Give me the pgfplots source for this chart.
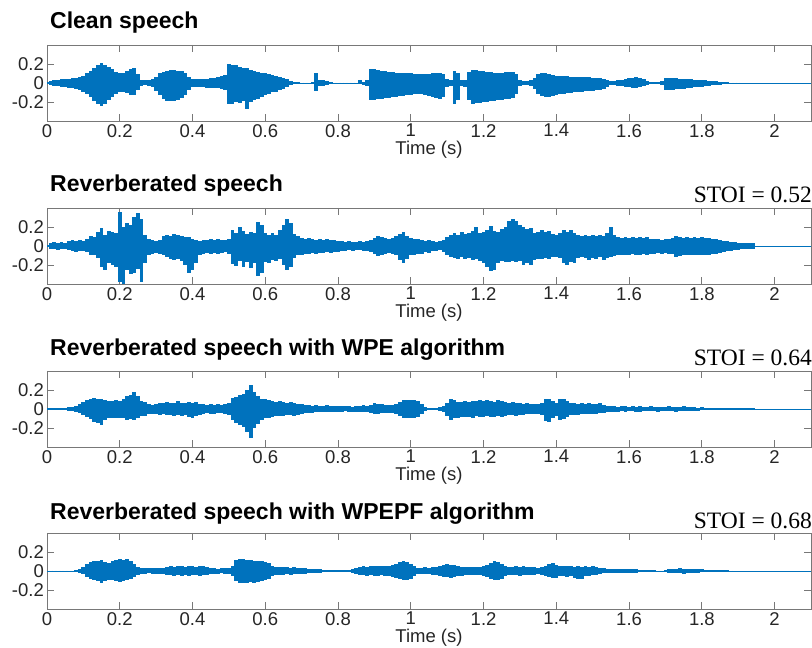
\documentclass[border=0pt]{standalone}
\usepackage{fontspec}
\setmainfont{Liberation Sans}
\newfontfamily\stoifont{Liberation Serif}
\usepackage{pgfplots}
\usepackage{pgfplotstable}
\pgfplotsset{compat=1.18}
\definecolor{wave}{RGB}{0,114,189}
\definecolor{spine}{RGB}{120,120,120}
\definecolor{ticktext}{RGB}{38,38,38}

% columns: positive peak, negative peak, one row every 0.01 s from t = 0
\pgfplotstableread[row sep=\\]{hi lo\\
0.01 -0.01\\ 0.02 -0.02\\ 0.03 -0.03\\ 0.03 -0.03\\ 0.04 -0.04\\ 0.04 -0.04\\ 0.04 -0.05\\ 0.05 -0.05\\ 0.05 -0.06\\ 0.06 -0.07\\
0.07 -0.09\\ 0.10 -0.12\\ 0.13 -0.15\\ 0.16 -0.19\\ 0.19 -0.22\\ 0.21 -0.24\\ 0.19 -0.22\\ 0.17 -0.18\\ 0.15 -0.15\\ 0.12 -0.12\\
0.11 -0.10\\ 0.11 -0.10\\ 0.13 -0.11\\ 0.15 -0.13\\ 0.16 -0.13\\ 0.09 -0.07\\ 0.03 -0.03\\ 0.03 -0.02\\ 0.03 -0.03\\ 0.04 -0.04\\
0.06 -0.08\\ 0.10 -0.13\\ 0.12 -0.17\\ 0.13 -0.19\\ 0.14 -0.19\\ 0.14 -0.19\\ 0.13 -0.18\\ 0.13 -0.16\\ 0.11 -0.13\\ 0.06 -0.07\\
0.04 -0.04\\ 0.04 -0.04\\ 0.04 -0.04\\ 0.04 -0.04\\ 0.04 -0.05\\ 0.05 -0.05\\ 0.05 -0.05\\ 0.06 -0.05\\ 0.07 -0.06\\ 0.08 -0.07\\
0.20 -0.22\\ 0.19 -0.22\\ 0.19 -0.20\\ 0.17 -0.21\\ 0.16 -0.19\\ 0.16 -0.27\\ 0.14 -0.20\\ 0.13 -0.18\\ 0.12 -0.17\\ 0.11 -0.15\\
0.10 -0.13\\ 0.09 -0.12\\ 0.08 -0.10\\ 0.07 -0.09\\ 0.06 -0.07\\ 0.05 -0.06\\ 0.04 -0.04\\ 0.02 -0.02\\ 0.01 -0.01\\ 0.01 -0.01\\
0.005 -0.005\\ 0.005 -0.005\\ 0.005 -0.005\\ 0.01 -0.01\\ 0.11 -0.08\\ 0.03 -0.03\\ 0.03 -0.03\\ 0.02 -0.02\\ 0.01 -0.01\\ 0.005 -0.005\\
0.005 -0.005\\ 0.005 -0.005\\ 0.005 -0.005\\ 0.005 -0.005\\ 0.005 -0.005\\ 0.005 -0.005\\ 0.03 -0.01\\ 0.01 -0.02\\ 0.03 -0.03\\ 0.15 -0.18\\
0.15 -0.18\\ 0.14 -0.17\\ 0.13 -0.17\\ 0.13 -0.16\\ 0.12 -0.16\\ 0.12 -0.15\\ 0.11 -0.15\\ 0.11 -0.14\\ 0.10 -0.14\\ 0.10 -0.13\\
0.10 -0.13\\ 0.09 -0.12\\ 0.09 -0.12\\ 0.09 -0.12\\ 0.09 -0.13\\ 0.09 -0.14\\ 0.10 -0.15\\ 0.10 -0.16\\ 0.10 -0.17\\ 0.09 -0.15\\
0.04 -0.04\\ 0.03 -0.03\\ 0.13 -0.22\\ 0.10 -0.18\\ 0.03 -0.03\\ 0.03 -0.04\\ 0.12 -0.18\\ 0.14 -0.22\\ 0.14 -0.21\\ 0.13 -0.21\\
0.13 -0.20\\ 0.12 -0.20\\ 0.12 -0.19\\ 0.11 -0.19\\ 0.11 -0.18\\ 0.11 -0.18\\ 0.12 -0.17\\ 0.12 -0.17\\ 0.12 -0.16\\ 0.09 -0.12\\
0.03 -0.03\\ 0.02 -0.02\\ 0.02 -0.02\\ 0.03 -0.03\\ 0.05 -0.06\\ 0.09 -0.12\\ 0.10 -0.14\\ 0.10 -0.15\\ 0.09 -0.15\\ 0.08 -0.14\\
0.07 -0.13\\ 0.07 -0.12\\ 0.07 -0.12\\ 0.07 -0.11\\ 0.06 -0.11\\ 0.06 -0.10\\ 0.06 -0.09\\ 0.06 -0.09\\ 0.06 -0.08\\ 0.06 -0.08\\
0.05 -0.08\\ 0.05 -0.07\\ 0.05 -0.07\\ 0.04 -0.06\\ 0.03 -0.04\\ 0.02 -0.02\\ 0.02 -0.02\\ 0.03 -0.03\\ 0.03 -0.03\\ 0.04 -0.04\\
0.05 -0.04\\ 0.05 -0.05\\ 0.06 -0.05\\ 0.05 -0.04\\ 0.04 -0.03\\ 0.02 -0.02\\ 0.01 -0.01\\ 0.01 -0.01\\ 0.01 -0.01\\ 0.02 -0.02\\
0.05 -0.07\\ 0.05 -0.07\\ 0.05 -0.07\\ 0.05 -0.06\\ 0.04 -0.06\\ 0.04 -0.06\\ 0.04 -0.05\\ 0.04 -0.05\\ 0.03 -0.04\\ 0.03 -0.04\\
0.03 -0.04\\ 0.03 -0.03\\ 0.02 -0.03\\ 0.02 -0.02\\ 0.02 -0.02\\ 0.01 -0.02\\ 0.01 -0.01\\ 0.01 -0.01\\ 0.005 -0.005\\ 0.005 -0.005\\ 0.002 -0.002\\
}\tclean

\pgfplotstableread[row sep=\\]{hi lo\\
0.01 -0.01\\ 0.03 -0.03\\ 0.04 -0.03\\ 0.03 -0.04\\ 0.04 -0.03\\ 0.03 -0.03\\ 0.05 -0.04\\ 0.06 -0.05\\ 0.05 -0.06\\ 0.06 -0.05\\
0.05 -0.05\\ 0.07 -0.06\\ 0.10 -0.09\\ 0.09 -0.10\\ 0.15 -0.13\\ 0.19 -0.22\\ 0.12 -0.25\\ 0.16 -0.18\\ 0.15 -0.20\\ 0.14 -0.22\\
0.36 -0.38\\ 0.20 -0.41\\ 0.24 -0.25\\ 0.22 -0.30\\ 0.30 -0.28\\ 0.35 -0.24\\ 0.28 -0.38\\ 0.12 -0.18\\ 0.07 -0.10\\ 0.06 -0.08\\
0.05 -0.07\\ 0.06 -0.08\\ 0.10 -0.10\\ 0.12 -0.12\\ 0.11 -0.14\\ 0.13 -0.15\\ 0.12 -0.14\\ 0.11 -0.16\\ 0.09 -0.20\\ 0.09 -0.28\\
0.07 -0.25\\ 0.06 -0.18\\ 0.05 -0.10\\ 0.06 -0.08\\ 0.06 -0.07\\ 0.07 -0.08\\ 0.06 -0.07\\ 0.07 -0.08\\ 0.06 -0.07\\ 0.06 -0.06\\
0.07 -0.08\\ 0.17 -0.19\\ 0.14 -0.21\\ 0.20 -0.16\\ 0.16 -0.22\\ 0.13 -0.17\\ 0.15 -0.23\\ 0.14 -0.18\\ 0.25 -0.32\\ 0.22 -0.28\\
0.14 -0.17\\ 0.12 -0.18\\ 0.14 -0.15\\ 0.12 -0.16\\ 0.17 -0.14\\ 0.22 -0.20\\ 0.28 -0.25\\ 0.24 -0.22\\ 0.13 -0.13\\ 0.10 -0.10\\
0.08 -0.09\\ 0.07 -0.08\\ 0.08 -0.08\\ 0.07 -0.07\\ 0.06 -0.08\\ 0.07 -0.07\\ 0.06 -0.07\\ 0.07 -0.06\\ 0.06 -0.07\\ 0.06 -0.06\\
0.05 -0.06\\ 0.05 -0.05\\ 0.04 -0.05\\ 0.05 -0.04\\ 0.04 -0.05\\ 0.04 -0.04\\ 0.05 -0.04\\ 0.04 -0.05\\ 0.05 -0.05\\ 0.06 -0.06\\
0.08 -0.08\\ 0.10 -0.11\\ 0.09 -0.10\\ 0.08 -0.08\\ 0.07 -0.07\\ 0.08 -0.08\\ 0.10 -0.10\\ 0.13 -0.15\\ 0.15 -0.18\\ 0.11 -0.14\\
0.08 -0.10\\ 0.07 -0.09\\ 0.07 -0.08\\ 0.06 -0.08\\ 0.05 -0.06\\ 0.06 -0.07\\ 0.05 -0.05\\ 0.04 -0.05\\ 0.05 -0.04\\ 0.06 -0.06\\
0.09 -0.09\\ 0.12 -0.12\\ 0.14 -0.13\\ 0.12 -0.14\\ 0.15 -0.12\\ 0.13 -0.14\\ 0.14 -0.13\\ 0.16 -0.15\\ 0.20 -0.14\\ 0.14 -0.16\\
0.15 -0.18\\ 0.17 -0.22\\ 0.21 -0.26\\ 0.16 -0.25\\ 0.15 -0.18\\ 0.18 -0.16\\ 0.20 -0.17\\ 0.26 -0.17\\ 0.28 -0.16\\ 0.26 -0.17\\
0.22 -0.16\\ 0.20 -0.20\\ 0.18 -0.18\\ 0.19 -0.20\\ 0.14 -0.15\\ 0.15 -0.14\\ 0.17 -0.14\\ 0.15 -0.13\\ 0.16 -0.14\\ 0.13 -0.12\\
0.12 -0.12\\ 0.14 -0.13\\ 0.17 -0.18\\ 0.15 -0.20\\ 0.17 -0.17\\ 0.14 -0.18\\ 0.12 -0.13\\ 0.11 -0.12\\ 0.12 -0.13\\ 0.11 -0.15\\
0.12 -0.13\\ 0.10 -0.14\\ 0.12 -0.12\\ 0.11 -0.15\\ 0.14 -0.13\\ 0.20 -0.12\\ 0.12 -0.11\\ 0.09 -0.10\\ 0.08 -0.09\\ 0.09 -0.10\\
0.08 -0.09\\ 0.09 -0.08\\ 0.08 -0.09\\ 0.09 -0.10\\ 0.08 -0.08\\ 0.09 -0.09\\ 0.07 -0.08\\ 0.07 -0.08\\ 0.07 -0.07\\ 0.06 -0.08\\
0.07 -0.07\\ 0.07 -0.08\\ 0.08 -0.08\\ 0.10 -0.12\\ 0.09 -0.11\\ 0.08 -0.10\\ 0.09 -0.10\\ 0.08 -0.09\\ 0.09 -0.10\\ 0.08 -0.09\\
0.09 -0.09\\ 0.08 -0.10\\ 0.08 -0.09\\ 0.07 -0.08\\ 0.07 -0.08\\ 0.06 -0.07\\ 0.05 -0.06\\ 0.05 -0.05\\ 0.04 -0.05\\ 0.04 -0.04\\
0.03 -0.04\\ 0.03 -0.03\\ 0.03 -0.03\\ 0.03 -0.03\\ 0.03 -0.03\\
}\treverb

\pgfplotstableread[row sep=\\]{hi lo\\
0.01 -0.01\\ 0.01 -0.01\\ 0.01 -0.01\\ 0.01 -0.01\\ 0.015 -0.015\\ 0.015 -0.015\\ 0.02 -0.02\\ 0.02 -0.02\\ 0.03 -0.03\\ 0.05 -0.04\\
0.07 -0.06\\ 0.09 -0.08\\ 0.11 -0.11\\ 0.12 -0.14\\ 0.11 -0.15\\ 0.10 -0.17\\ 0.09 -0.12\\ 0.08 -0.10\\ 0.08 -0.10\\ 0.09 -0.09\\
0.08 -0.09\\ 0.10 -0.10\\ 0.14 -0.12\\ 0.15 -0.11\\ 0.18 -0.12\\ 0.14 -0.10\\ 0.08 -0.07\\ 0.07 -0.07\\ 0.05 -0.05\\ 0.04 -0.05\\
0.05 -0.05\\ 0.06 -0.06\\ 0.06 -0.05\\ 0.07 -0.06\\ 0.06 -0.06\\ 0.06 -0.07\\ 0.08 -0.06\\ 0.06 -0.07\\ 0.06 -0.06\\ 0.07 -0.08\\
0.06 -0.09\\ 0.07 -0.07\\ 0.05 -0.06\\ 0.05 -0.05\\ 0.04 -0.04\\ 0.05 -0.05\\ 0.04 -0.05\\ 0.05 -0.04\\ 0.04 -0.04\\ 0.05 -0.05\\
0.06 -0.06\\ 0.12 -0.12\\ 0.13 -0.15\\ 0.15 -0.17\\ 0.16 -0.19\\ 0.20 -0.24\\ 0.25 -0.31\\ 0.18 -0.20\\ 0.14 -0.16\\ 0.11 -0.12\\
0.10 -0.10\\ 0.09 -0.09\\ 0.08 -0.08\\ 0.07 -0.07\\ 0.08 -0.07\\ 0.07 -0.07\\ 0.06 -0.06\\ 0.07 -0.06\\ 0.06 -0.07\\ 0.05 -0.06\\
0.05 -0.05\\ 0.04 -0.04\\ 0.04 -0.04\\ 0.03 -0.04\\ 0.04 -0.03\\ 0.03 -0.03\\ 0.03 -0.03\\ 0.04 -0.03\\ 0.03 -0.03\\ 0.03 -0.03\\
0.03 -0.03\\ 0.03 -0.03\\ 0.03 -0.02\\ 0.03 -0.03\\ 0.02 -0.03\\ 0.03 -0.03\\ 0.03 -0.03\\ 0.04 -0.03\\ 0.03 -0.03\\ 0.04 -0.04\\
0.06 -0.05\\ 0.05 -0.05\\ 0.05 -0.04\\ 0.04 -0.04\\ 0.04 -0.04\\ 0.04 -0.04\\ 0.05 -0.05\\ 0.07 -0.07\\ 0.09 -0.09\\ 0.09 -0.10\\
0.09 -0.09\\ 0.09 -0.10\\ 0.08 -0.08\\ 0.05 -0.05\\ 0.02 -0.02\\ 0.015 -0.015\\ 0.015 -0.015\\ 0.015 -0.015\\ 0.02 -0.02\\ 0.03 -0.03\\
0.06 -0.07\\ 0.11 -0.12\\ 0.09 -0.10\\ 0.07 -0.09\\ 0.07 -0.08\\ 0.08 -0.08\\ 0.07 -0.08\\ 0.08 -0.09\\ 0.08 -0.07\\ 0.09 -0.08\\
0.08 -0.08\\ 0.09 -0.07\\ 0.08 -0.08\\ 0.07 -0.08\\ 0.09 -0.07\\ 0.08 -0.08\\ 0.07 -0.07\\ 0.06 -0.06\\ 0.07 -0.06\\ 0.06 -0.07\\
0.06 -0.06\\ 0.05 -0.06\\ 0.06 -0.05\\ 0.05 -0.05\\ 0.05 -0.05\\ 0.05 -0.05\\ 0.06 -0.06\\ 0.11 -0.13\\ 0.10 -0.14\\ 0.08 -0.10\\
0.06 -0.07\\ 0.11 -0.12\\ 0.10 -0.11\\ 0.08 -0.08\\ 0.06 -0.06\\ 0.06 -0.06\\ 0.05 -0.06\\ 0.06 -0.05\\ 0.05 -0.05\\ 0.06 -0.05\\
0.05 -0.05\\ 0.05 -0.05\\ 0.06 -0.04\\ 0.04 -0.04\\ 0.03 -0.03\\ 0.03 -0.03\\ 0.03 -0.03\\ 0.02 -0.03\\ 0.03 -0.02\\ 0.03 -0.03\\
0.02 -0.02\\ 0.03 -0.02\\ 0.02 -0.03\\ 0.03 -0.03\\ 0.02 -0.02\\ 0.02 -0.02\\ 0.03 -0.02\\ 0.02 -0.02\\ 0.02 -0.03\\ 0.02 -0.02\\
0.02 -0.02\\ 0.03 -0.02\\ 0.02 -0.02\\ 0.02 -0.03\\ 0.02 -0.02\\ 0.03 -0.02\\ 0.02 -0.02\\ 0.02 -0.02\\ 0.02 -0.02\\ 0.015 -0.02\\
0.02 -0.015\\ 0.015 -0.015\\ 0.015 -0.015\\ 0.015 -0.015\\ 0.01 -0.015\\ 0.015 -0.01\\ 0.01 -0.01\\ 0.01 -0.01\\ 0.01 -0.01\\ 0.01 -0.01\\
0.01 -0.01\\ 0.01 -0.01\\ 0.01 -0.01\\ 0.01 -0.01\\ 0.01 -0.01\\
}\twpe

\pgfplotstableread[row sep=\\]{hi lo\\
0.005 -0.005\\ 0.005 -0.005\\ 0.005 -0.005\\ 0.005 -0.005\\ 0.005 -0.005\\ 0.005 -0.005\\ 0.005 -0.005\\ 0.005 -0.005\\ 0.01 -0.01\\ 0.02 -0.02\\
0.04 -0.03\\ 0.07 -0.06\\ 0.09 -0.08\\ 0.10 -0.09\\ 0.11 -0.11\\ 0.12 -0.13\\ 0.09 -0.11\\ 0.08 -0.09\\ 0.10 -0.10\\ 0.12 -0.11\\
0.13 -0.12\\ 0.12 -0.11\\ 0.13 -0.10\\ 0.11 -0.08\\ 0.07 -0.06\\ 0.04 -0.04\\ 0.03 -0.03\\ 0.03 -0.03\\ 0.03 -0.02\\ 0.03 -0.03\\
0.03 -0.03\\ 0.03 -0.03\\ 0.03 -0.03\\ 0.04 -0.04\\ 0.05 -0.04\\ 0.04 -0.05\\ 0.05 -0.04\\ 0.05 -0.05\\ 0.04 -0.04\\ 0.05 -0.05\\
0.05 -0.04\\ 0.04 -0.04\\ 0.05 -0.05\\ 0.05 -0.04\\ 0.04 -0.04\\ 0.03 -0.03\\ 0.03 -0.03\\ 0.02 -0.03\\ 0.03 -0.02\\ 0.03 -0.03\\
0.03 -0.03\\ 0.05 -0.05\\ 0.12 -0.11\\ 0.13 -0.13\\ 0.13 -0.13\\ 0.12 -0.13\\ 0.12 -0.12\\ 0.11 -0.13\\ 0.11 -0.12\\ 0.10 -0.11\\
0.09 -0.10\\ 0.08 -0.08\\ 0.05 -0.05\\ 0.04 -0.04\\ 0.04 -0.04\\ 0.04 -0.04\\ 0.04 -0.03\\ 0.03 -0.04\\ 0.04 -0.03\\ 0.03 -0.03\\
0.03 -0.03\\ 0.03 -0.03\\ 0.02 -0.02\\ 0.02 -0.02\\ 0.02 -0.02\\ 0.02 -0.02\\ 0.015 -0.015\\ 0.015 -0.015\\ 0.01 -0.01\\ 0.01 -0.01\\
0.01 -0.01\\ 0.01 -0.01\\ 0.01 -0.01\\ 0.01 -0.01\\ 0.02 -0.02\\ 0.03 -0.03\\ 0.04 -0.04\\ 0.05 -0.04\\ 0.04 -0.05\\ 0.05 -0.04\\
0.05 -0.05\\ 0.05 -0.05\\ 0.05 -0.04\\ 0.05 -0.05\\ 0.05 -0.05\\ 0.06 -0.06\\ 0.07 -0.07\\ 0.09 -0.08\\ 0.10 -0.10\\ 0.09 -0.10\\
0.07 -0.08\\ 0.05 -0.05\\ 0.03 -0.03\\ 0.03 -0.03\\ 0.04 -0.03\\ 0.03 -0.03\\ 0.04 -0.04\\ 0.04 -0.04\\ 0.05 -0.05\\ 0.06 -0.06\\
0.07 -0.06\\ 0.06 -0.07\\ 0.06 -0.06\\ 0.05 -0.05\\ 0.04 -0.05\\ 0.04 -0.04\\ 0.04 -0.04\\ 0.04 -0.04\\ 0.04 -0.04\\ 0.04 -0.04\\
0.05 -0.05\\ 0.06 -0.06\\ 0.08 -0.08\\ 0.10 -0.09\\ 0.09 -0.10\\ 0.07 -0.08\\ 0.05 -0.05\\ 0.04 -0.04\\ 0.04 -0.04\\ 0.05 -0.04\\
0.04 -0.05\\ 0.05 -0.04\\ 0.04 -0.04\\ 0.04 -0.04\\ 0.04 -0.04\\ 0.03 -0.03\\ 0.04 -0.04\\ 0.05 -0.05\\ 0.07 -0.06\\ 0.08 -0.07\\
0.06 -0.07\\ 0.05 -0.05\\ 0.05 -0.05\\ 0.05 -0.06\\ 0.05 -0.05\\ 0.04 -0.07\\ 0.05 -0.08\\ 0.04 -0.08\\ 0.05 -0.05\\ 0.04 -0.05\\
0.05 -0.04\\ 0.04 -0.04\\ 0.03 -0.03\\ 0.03 -0.02\\ 0.02 -0.02\\ 0.02 -0.02\\ 0.02 -0.02\\ 0.02 -0.02\\ 0.02 -0.02\\ 0.02 -0.02\\
0.02 -0.02\\ 0.02 -0.02\\ 0.02 -0.02\\ 0.015 -0.015\\ 0.015 -0.015\\ 0.01 -0.01\\ 0.01 -0.01\\ 0.01 -0.01\\ 0.005 -0.005\\ 0.005 -0.005\\
0.01 -0.01\\ 0.02 -0.02\\ 0.02 -0.02\\ 0.02 -0.02\\ 0.03 -0.02\\ 0.02 -0.03\\ 0.02 -0.02\\ 0.02 -0.02\\ 0.02 -0.02\\ 0.02 -0.02\\
0.02 -0.015\\ 0.015 -0.015\\ 0.015 -0.015\\ 0.015 -0.015\\ 0.01 -0.015\\ 0.015 -0.01\\ 0.01 -0.01\\ 0.01 -0.01\\ 0.005 -0.005\\
}\twpepf

\pgfplotsset{
  wavax/.style={
    scale only axis, width=764pt, height=76pt, anchor=south west,
    xmin=0, xmax=2.1, ymin=-0.4, ymax=0.4,
    xtick={0,0.2,0.4,0.6,0.8,1,1.2,1.4,1.6,1.8,2},
    xticklabels={0,0.2,0.4,0.6,0.8,1,1.2,1.4,1.6,1.8,2},
    ytick={-0.2,0,0.2}, yticklabels={-0.2,0,0.2},
    tick align=inside, major tick length=7pt,
    axis line style={spine, line width=0.9pt},
    tick style={spine, line width=0.9pt},
    ticklabel style={font=\fontsize{18.5}{20}\selectfont, text=ticktext},
    xticklabel style={inner sep=0pt, yshift=-3pt},
    yticklabel style={inner sep=3pt},
    xlabel={Time (s)},
    xlabel style={font=\fontsize{18.5}{20}\selectfont, text=ticktext, inner sep=0pt, yshift=-4pt},
  },
  comb/.style={ycomb, no markers, color=wave, line width=3.8pt},
}

\newcommand{\wave}[1]{%
  \addplot[comb] table[x expr=\coordindex*0.01, y=hi] {#1};
  \addplot[comb] table[x expr=\coordindex*0.01, y=lo] {#1};
  \addplot[color=wave, line width=0.9pt, no markers] coordinates {(0,0) (2.1,0)};
}

\begin{document}
\begin{tikzpicture}
\begin{axis}[wavax, at={(47pt,527pt)}]
\wave{\tclean}
\end{axis}
\begin{axis}[wavax, at={(47pt,364pt)}]
\wave{\treverb}
\end{axis}
\begin{axis}[wavax, at={(47pt,201pt)}]
\wave{\twpe}
\end{axis}
\begin{axis}[wavax, at={(47pt,39pt)}]
\wave{\twpepf}
\end{axis}

\tikzset{ttl/.style={anchor=base west, inner sep=0pt, font=\bfseries\fontsize{23}{25}\selectfont},
         stoi/.style={anchor=base east, inner sep=0pt, font=\stoifont\fontsize{23.5}{25}\selectfont}}
\node[ttl] at (50pt,619pt) {Clean speech};
\node[ttl] at (50pt,456pt) {Reverberated speech};
\node[ttl] at (50pt,292pt) {Reverberated speech with WPE algorithm};
\node[ttl] at (50pt,128pt) {Reverberated speech with WPEPF algorithm};
\node[stoi] at (812pt,445pt) {STOI = 0.52};
\node[stoi] at (812pt,282pt) {STOI = 0.64};
\node[stoi] at (812pt,119pt) {STOI = 0.68};

\pgfresetboundingbox
\path[use as bounding box] (0,0) rectangle (812pt,648pt);
\end{tikzpicture}
\end{document}
